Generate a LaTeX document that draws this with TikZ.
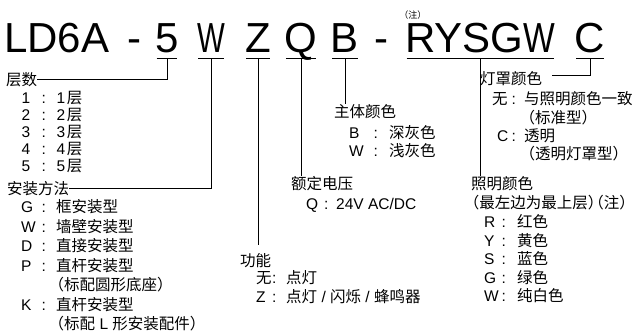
\documentclass[tikz,border=0pt]{standalone}
\usepackage{fontspec}
\setmainfont{Liberation Sans}
\newfontfamily\cjk{Noto Sans CJK SC}
\newcommand\bodyfont{\fontsize{15.5}{18}\selectfont}
\newcommand\lp[1][0.6em]{\makebox[#1][r]{\cjk （}}
\newcommand\rp[1][0.6em]{\makebox[#1][l]{\cjk ）}}
\newcommand\kv[7]{%
  \node[txt] (#1) at (#3,#2) {#6};
  \node[txt] (#1c) at (#4,#2) {:};
  \node[txt] (#1v) at (#5,#2) {#7};}
\newcommand\ul[1]{\draw[conn] ([shift={(1.5pt,-5.5pt)}]#1.base west) -- ([shift={(-1.5pt,-5.5pt)}]#1.base east);
  \coordinate (c#1) at ([yshift=-5.5pt]#1.base);}
\begin{document}
\begin{tikzpicture}[x=1pt,y=-1pt,
  txt/.style={anchor=base west,inner sep=0pt,font=\bodyfont},
  ttl/.style={anchor=base,inner sep=0pt,font=\fontsize{42}{42}\selectfont},
  conn/.style={line width=0.9pt}]
\useasboundingbox[fill=white] (0,0) rectangle (640,333);

% title
\node[ttl,anchor=base west] (tLD) at (4,52.5) {LD6A};
\node[ttl] (tdashA) at (134,52.5) {-};
\node[ttl] (t5) at (167,52.5) {5};
\node[ttl] (tW) at (211,52.5) {\scalebox{0.7}[1]{W}};
\node[ttl] (tZ) at (258,52.5) {Z};
\node[ttl] (tQ) at (301,52.5) {Q};
\node[ttl] (tB) at (345,52.5) {B};
\node[ttl] (tdashB) at (381,52.5) {-};
\node[ttl,anchor=base west] (tR) at (405,52.5) {RYSG\scalebox{0.8}[1]{W}};
\node[ttl] (tC) at (590,52.5) {C};
\node[anchor=base west,inner sep=0pt,font=\fontsize{9}{9}\selectfont] (note) at (403,18.5) {\lp[0.58em]{\cjk 注}\rp[0.58em]};

\ul{t5}\ul{tW}\ul{tZ}\ul{tQ}\ul{tB}\ul{tR}\ul{tC}

% layers
\node[txt] (cs) at (6,85) {\cjk 层数};
\kv{ly1}{103}{21.5}{41.5}{56.5}{1}{1\hspace{1.5pt}{\cjk 层}}
\kv{ly2}{120}{21.5}{41.5}{56.5}{2}{2\hspace{1.5pt}{\cjk 层}}
\kv{ly3}{137}{21.5}{41.5}{56.5}{3}{3\hspace{1.5pt}{\cjk 层}}
\kv{ly4}{154}{21.5}{41.5}{56.5}{4}{4\hspace{1.5pt}{\cjk 层}}
\kv{ly5}{171}{21.5}{41.5}{56.5}{5}{5\hspace{1.5pt}{\cjk 层}}

% mounting
\node[txt] (azff) at (7,194) {\cjk 安装方法};
\kv{mG}{212.5}{21}{41.5}{56}{G}{\cjk 框安装型}
\kv{mW}{232}{21}{41.5}{56}{W}{\cjk 墙壁安装型}
\kv{mD}{251.5}{21}{41.5}{56}{D}{\cjk 直接安装型}
\kv{mP}{271}{21}{41.5}{56}{P}{\cjk 直杆安装型}
\node[txt] (mPn) at (54.7,290.5) {\lp{\cjk 标配圆形底座}\rp};
\kv{mK}{310}{21}{41.5}{56}{K}{\cjk 直杆安装型}
\node[txt] (mKn) at (54.7,329.5) {\lp{\cjk 标配} L {\cjk 形安装配件}\rp};

% function
\node[txt] (gn) at (240,266) {\cjk 功能};
\kv{fA}{283}{256}{272}{286}{\cjk 无}{\cjk 点灯}
\kv{fZ}{302}{256}{272}{286}{Z}{{\cjk 点灯} / {\cjk 闪烁} / {\cjk 蜂鸣器}}

% voltage
\node[txt] (eddy) at (291,189) {\cjk 额定电压};
\kv{vQ}{209}{306}{324}{336}{Q}{24V AC/DC}

% body colour
\node[txt] (ztys) at (334,117) {\cjk 主体颜色};
\kv{bB}{138}{349}{373.5}{389}{B}{\cjk 深灰色}
\kv{bW}{156}{349}{373.5}{389}{W}{\cjk 浅灰色}

% cover colour
\node[txt] (dzys) at (480,84) {\cjk 灯罩颜色};
\kv{cA}{104}{492}{511.5}{524}{\cjk 无}{\cjk 与照明颜色一致}
\node[txt] (cAn) at (525.7,123) {\lp{\cjk 标准型}\rp};
\kv{cC}{141}{497}{511.5}{524}{C}{\cjk 透明}
\node[txt] (cCn) at (525.7,159) {\lp{\cjk 透明灯罩型}\rp};

% light colour
\node[txt] (zmys) at (471,189) {\cjk 照明颜色};
\node[txt] (zmn) at (471,208) {\lp[0.52em]{\cjk 最左边为最上层}\rp[0.52em]\lp[0.52em]{\cjk 注}\rp[0.52em]};
\kv{lR}{227}{484}{501.5}{517}{R}{\cjk 红色}
\kv{lY}{246}{484}{501.5}{517}{Y}{\cjk 黄色}
\kv{lS}{264}{484}{501.5}{517}{S}{\cjk 蓝色}
\kv{lG}{283}{484}{501.5}{517}{G}{\cjk 绿色}
\kv{lW}{301}{484}{501.5}{517}{W}{\cjk 纯白色}

% connectors
\draw[conn] (ct5) |- (cs.east);
\draw[conn] (ctW) |- (azff.east);
\draw[conn] (ctZ) -- ([yshift=8pt]ctZ |- gn.north);
\draw[conn] (ctQ) -- (ctQ |- eddy.north);
\draw[conn] (ctB) -- (ctB |- ztys.north);
\draw[conn] (ctR) -- (ctR |- zmys.north);
\draw[conn] (ctC) |- ([shift={(10pt,3pt)}]dzys.east);
\end{tikzpicture}
\end{document}
